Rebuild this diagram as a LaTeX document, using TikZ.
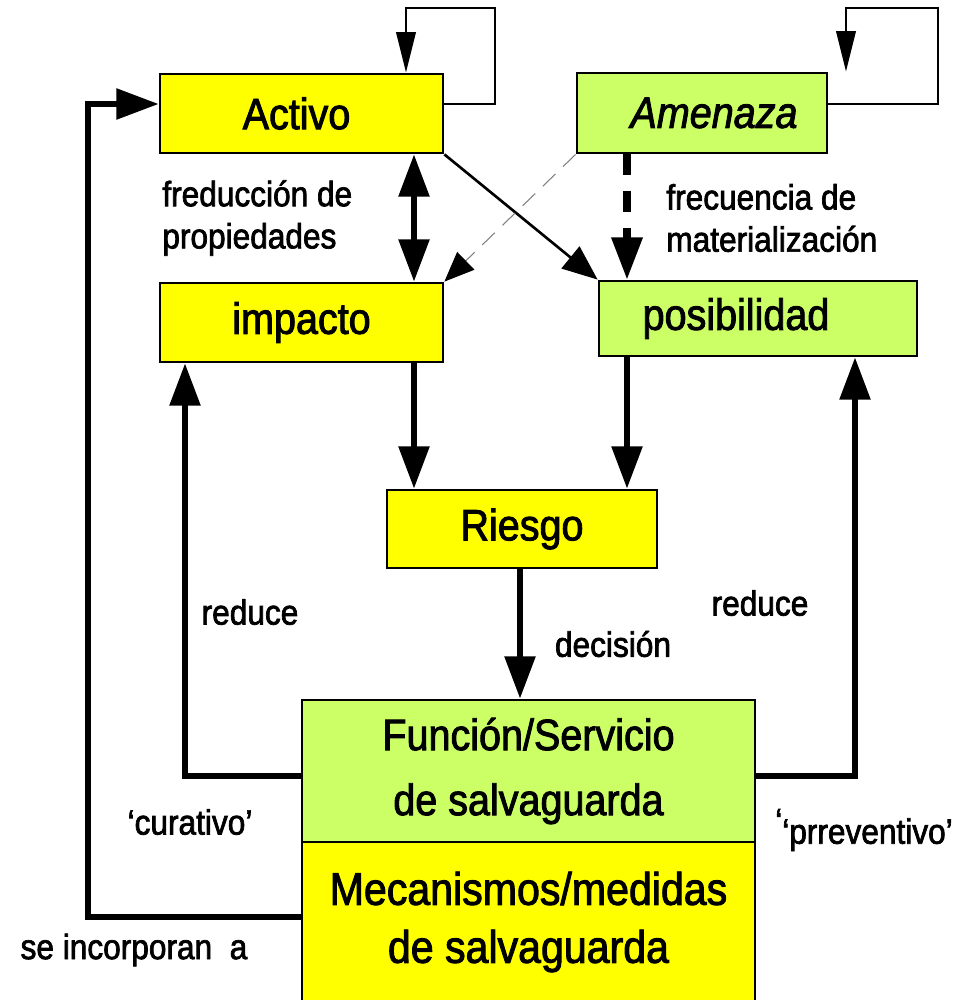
\documentclass[tikz,border=0pt]{standalone}
\usepackage{fontspec}
\setmainfont{Liberation Sans}[FakeStretch=0.9,FakeBold=2]
\usepackage{xcolor}
\usetikzlibrary{arrows.meta}
\definecolor{amarillo}{HTML}{FFFF00}
\definecolor{verde}{HTML}{CCFF66}

\begin{document}
\begin{tikzpicture}[x=0.02cm,y=-0.02cm,
	caja/.style={draw,line width=1.6pt,inner sep=0pt,font=\fontsize{25}{30}\selectfont},
	gorda/.style={line width=3.3pt,-{Triangle[length=24pt,width=17pt]}},
	doble/.style={line width=3.3pt,{Triangle[length=24pt,width=17pt]}-{Triangle[length=24pt,width=17pt]}},
	fina/.style={line width=1.5pt,-{Triangle[length=23pt,width=11pt]}},
	etiq/.style={font=\fontsize{20}{24}\selectfont,inner sep=0pt}]
	\useasboundingbox (0,0) rectangle (961,1000);

	% cajas
	\node[caja,fill=amarillo,minimum width=5.66cm,minimum height=1.58cm] (activo) at (301.5,113.5) {\hspace*{-0.2cm}Activo};
	\node[caja,fill=verde,minimum width=5cm,minimum height=1.6cm,font=\fontsize{25}{30}\selectfont\itshape] (amenaza) at (702,113) {\hspace*{0.48cm}Amenaza};
	\node[caja,fill=amarillo,minimum width=5.66cm,minimum height=1.58cm] (impacto) at (301.5,322.5) {impacto};
	\node[caja,fill=verde,minimum width=6.36cm,minimum height=1.5cm] (posib) at (758,318.5) {\hspace*{-0.88cm}posibilidad};
	\node[caja,fill=amarillo,minimum width=5.4cm,minimum height=1.56cm] (riesgo) at (522,529) {Riesgo};
	\node[caja,fill=amarillo,minimum width=9.06cm,minimum height=3.2cm,align=center,font=\fontsize{26}{31}\selectfont] (mecan) at (528.5,922) {Mecanismos/medidas\\[2pt]de salvaguarda};
	\node[caja,fill=verde,minimum width=9.06cm,minimum height=2.84cm,align=center,font=\fontsize{25}{37}\selectfont] (funcion) at (528.5,771) {Función/Servicio\\de salvaguarda};

	% textos
	\node[etiq,align=left,anchor=west] (freduc) at (162,218) {freducción de\\propiedades};
	\node[etiq,align=left,anchor=west] (frecu) at (666,218) {frecuencia de\\materialización};
	\node[etiq] (reduceI) at (250,612) {reduce};
	\node[etiq] (reduceD) at (760,603) {reduce};
	\node[etiq] (decision) at (613,644) {decisión};
	\node[etiq] (curativo) at (190,822) {‘curativo’};
	\node[etiq] (preventivo) at (864,830) {\raisebox{6pt}{‘}‘prreventivo’};
	\node[etiq] (incorpora) at (134,950) {se incorporan\ \ a};

	% bucles
	\coordinate (bucleA) at (406,8);
	\coordinate (bucleB) at (846,8);
	\draw[fina] (activo.east |- 0,104) -| (495,8) -- (bucleA) -- (activo.north -| bucleA);
	\draw[fina] (amenaza.east |- 0,104) -| (938,8) -- (bucleB) -- (amenaza.north -| bucleB);

	% flechas
	\coordinate (izq) at (88,917);
	\draw[gorda] (mecan.west |- izq) -- (izq) |- (activo.west |- 0,104);
	\draw[doble] (activo.south -| 414,0) -- (impacto.north -| 414,0);
	\draw[line width=1.5pt,-{Triangle[length=20pt,width=16pt]}] (activo.south east) -- (posib.north west);
	\draw[gorda,line width=4pt,dash pattern=on 12pt off 9pt] (amenaza.south -| 627,0) -- (posib.north -| 627,0);
	\draw[gray,line width=0.6pt,dash pattern=on 10pt off 6pt,-{Triangle[length=17pt,width=14pt,color=black]}] (amenaza.south west) -- (impacto.north east);
	\draw[gorda] (impacto.south -| 414,0) -- (riesgo.north -| 414,0);
	\draw[gorda] (posib.south -| 627,0) -- (riesgo.north -| 627,0);
	\draw[gorda] (riesgo.south -| 520,0) -- (funcion.north -| 520,0);
	\draw[gorda] (funcion.west |- 0,776) -| (impacto.south -| 185,0);
	\draw[gorda] (funcion.east |- 0,776) -| (posib.south -| 855,0);
\end{tikzpicture}
\end{document}
